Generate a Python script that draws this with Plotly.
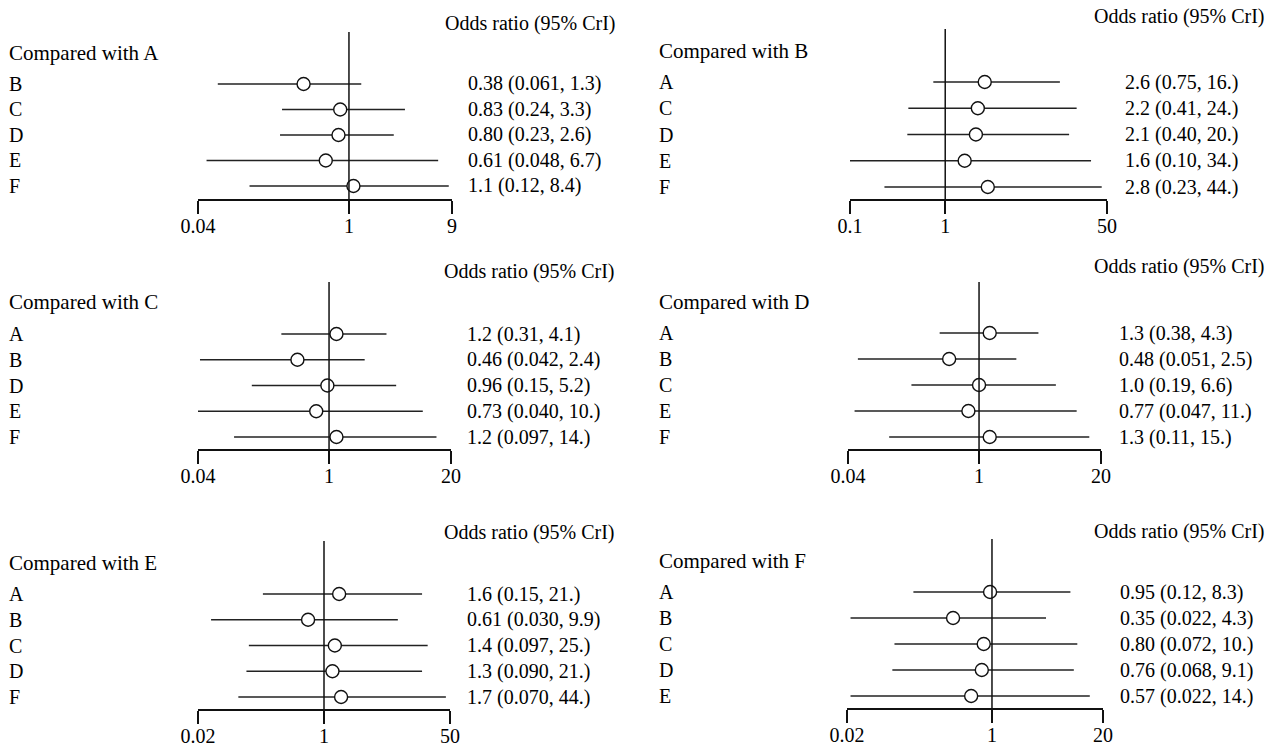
import math
import plotly.graph_objects as go

W, H = 1285, 747

# ---------------- data ----------------
ref_A = "A"
cmp_A = ["B", "C", "D", "E", "F"]
or_A = [0.38, 0.83, 0.80, 0.61, 1.1]
lo_A = [0.061, 0.24, 0.23, 0.048, 0.12]
hi_A = [1.3, 3.3, 2.6, 6.7, 8.4]
txt_A = ["0.38 (0.061, 1.3)", "0.83 (0.24, 3.3)", "0.80 (0.23, 2.6)", "0.61 (0.048, 6.7)", "1.1 (0.12, 8.4)"]
ticks_A = [0.04, 1, 9]
ticklab_A = ["0.04", "1", "9"]

ref_B = "B"
cmp_B = ["A", "C", "D", "E", "F"]
or_B = [2.6, 2.2, 2.1, 1.6, 2.8]
lo_B = [0.75, 0.41, 0.40, 0.10, 0.23]
hi_B = [16, 24, 20, 34, 44]
txt_B = ["2.6 (0.75, 16.)", "2.2 (0.41, 24.)", "2.1 (0.40, 20.)", "1.6 (0.10, 34.)", "2.8 (0.23, 44.)"]
ticks_B = [0.1, 1, 50]
ticklab_B = ["0.1", "1", "50"]

ref_C = "C"
cmp_C = ["A", "B", "D", "E", "F"]
or_C = [1.2, 0.46, 0.96, 0.73, 1.2]
lo_C = [0.31, 0.042, 0.15, 0.040, 0.097]
hi_C = [4.1, 2.4, 5.2, 10, 14]
txt_C = ["1.2 (0.31, 4.1)", "0.46 (0.042, 2.4)", "0.96 (0.15, 5.2)", "0.73 (0.040, 10.)", "1.2 (0.097, 14.)"]
ticks_C = [0.04, 1, 20]
ticklab_C = ["0.04", "1", "20"]

ref_D = "D"
cmp_D = ["A", "B", "C", "E", "F"]
or_D = [1.3, 0.48, 1.0, 0.77, 1.3]
lo_D = [0.38, 0.051, 0.19, 0.047, 0.11]
hi_D = [4.3, 2.5, 6.6, 11, 15]
txt_D = ["1.3 (0.38, 4.3)", "0.48 (0.051, 2.5)", "1.0 (0.19, 6.6)", "0.77 (0.047, 11.)", "1.3 (0.11, 15.)"]
ticks_D = [0.04, 1, 20]
ticklab_D = ["0.04", "1", "20"]

ref_E = "E"
cmp_E = ["A", "B", "C", "D", "F"]
or_E = [1.6, 0.61, 1.4, 1.3, 1.7]
lo_E = [0.15, 0.030, 0.097, 0.090, 0.070]
hi_E = [21, 9.9, 25, 21, 44]
txt_E = ["1.6 (0.15, 21.)", "0.61 (0.030, 9.9)", "1.4 (0.097, 25.)", "1.3 (0.090, 21.)", "1.7 (0.070, 44.)"]
ticks_E = [0.02, 1, 50]
ticklab_E = ["0.02", "1", "50"]

ref_F = "F"
cmp_F = ["A", "B", "C", "D", "E"]
or_F = [0.95, 0.35, 0.80, 0.76, 0.57]
lo_F = [0.12, 0.022, 0.072, 0.068, 0.022]
hi_F = [8.3, 4.3, 10, 9.1, 14]
txt_F = ["0.95 (0.12, 8.3)", "0.35 (0.022, 4.3)", "0.80 (0.072, 10.)", "0.76 (0.068, 9.1)", "0.57 (0.022, 14.)"]
ticks_F = [0.02, 1, 20]
ticklab_F = ["0.02", "1", "20"]

HEADING = "Odds ratio (95% CrI)"

# ---------------- layout geometry (pixels) ----------------
geo_A = dict(x0=198, x1=452, axis=199, top=32, rows=[84, 186], lab=7, cmp_y=53, head_x=443, head_y=23, val_x=466)
geo_B = dict(x0=850, x1=1107, axis=199, top=29, rows=[82, 187], lab=657, cmp_y=51, head_x=1092, head_y=16, val_x=1123)
geo_C = dict(x0=198, x1=451, axis=449, top=282, rows=[334, 437], lab=7, cmp_y=302, head_x=442, head_y=271, val_x=465)
geo_D = dict(x0=848, x1=1101, axis=449, top=282, rows=[333, 437], lab=657, cmp_y=302, head_x=1092, head_y=266, val_x=1117)
geo_E = dict(x0=198, x1=450, axis=709, top=541, rows=[594, 697], lab=7, cmp_y=563, head_x=442, head_y=532, val_x=465)
geo_F = dict(x0=847, x1=1103, axis=708, top=539, rows=[592, 696], lab=657, cmp_y=561, head_x=1092, head_y=531, val_x=1118)

panels = [
    (ref_A, cmp_A, or_A, lo_A, hi_A, txt_A, ticks_A, ticklab_A, geo_A),
    (ref_B, cmp_B, or_B, lo_B, hi_B, txt_B, ticks_B, ticklab_B, geo_B),
    (ref_C, cmp_C, or_C, lo_C, hi_C, txt_C, ticks_C, ticklab_C, geo_C),
    (ref_D, cmp_D, or_D, lo_D, hi_D, txt_D, ticks_D, ticklab_D, geo_D),
    (ref_E, cmp_E, or_E, lo_E, hi_E, txt_E, ticks_E, ticklab_E, geo_E),
    (ref_F, cmp_F, or_F, lo_F, hi_F, txt_F, ticks_F, ticklab_F, geo_F),
]

FONT = "Liberation Serif, Times New Roman, serif"
FS = 20
INK = "#111111"

fig = go.Figure()
layout = dict(
    width=W, height=H,
    autosize=False,
    margin=dict(l=0, r=0, t=0, b=0, pad=0, autoexpand=False),
    paper_bgcolor="white", plot_bgcolor="rgba(0,0,0,0)",
    showlegend=False,
    font=dict(family=FONT, size=FS, color="black"),
    hovermode=False,
)
annotations = []

for i, (ref, cmp, orv, lo, hi, txt, tv, tl, g) in enumerate(panels, start=1):
    n = len(cmp)
    ys = list(range(n, 0, -1))
    sp = (g["rows"][1] - g["rows"][0]) / (n - 1)
    ymin = 1 - (g["axis"] - g["rows"][1]) / sp
    ymax = n + (g["rows"][0] - g["top"]) / sp
    sfx = "" if i == 1 else str(i)
    xa, ya = "x" + sfx, "y" + sfx

    layout["xaxis" + sfx] = dict(
        domain=[g["x0"] / W, g["x1"] / W], anchor=ya, type="log",
        range=[math.log10(tv[0]) - 1e-6, math.log10(tv[-1]) + 1e-6],
        tickmode="array", tickvals=tv, ticktext=tl,
        ticks="outside", ticklen=13, tickwidth=1.6, tickcolor=INK,
        ticklabelstandoff=-5,
        showline=True, linewidth=1.6, linecolor=INK,
        showgrid=False, zeroline=False, fixedrange=True, automargin=False,
        tickfont=dict(family=FONT, size=FS, color="black"),
    )
    layout["yaxis" + sfx] = dict(
        domain=[1 - g["axis"] / H, 1 - g["top"] / H], anchor=xa,
        range=[ymin, ymax], visible=False, showgrid=False, zeroline=False,
        fixedrange=True, automargin=False,
    )

    # credible interval segments
    sx, sy = [], []
    for y, a, b in zip(ys, lo, hi):
        sx += [a, b, None]
        sy += [y, y, None]
    fig.add_trace(go.Scatter(x=sx, y=sy, mode="lines", xaxis=xa, yaxis=ya,
                             line=dict(color="#222222", width=1.5), cliponaxis=False))
    # point estimates
    fig.add_trace(go.Scatter(x=orv, y=ys, mode="markers", xaxis=xa, yaxis=ya, cliponaxis=False,
                             marker=dict(symbol="circle", size=13, color="white",
                                         line=dict(color=INK, width=1.4))))
    # reference line at OR = 1
    fig.add_trace(go.Scatter(x=[1, 1], y=[ymin, ymax], mode="lines", xaxis=xa, yaxis=ya,
                             line=dict(color=INK, width=1.5), cliponaxis=False))

    # texts
    annotations.append(dict(text="Compared with " + ref, xref="paper", yref="paper",
                            x=g["lab"] / W, y=1 - g["cmp_y"] / H, xanchor="left", yanchor="middle",
                            showarrow=False, font=dict(size=21)))
    annotations.append(dict(text=HEADING, xref="paper", yref="paper",
                            x=g["head_x"] / W, y=1 - g["head_y"] / H, xanchor="left", yanchor="middle",
                            showarrow=False))
    for y, c, t in zip(ys, cmp, txt):
        annotations.append(dict(text=c, xref="paper", yref=ya, x=g["lab"] / W, y=y,
                                xanchor="left", yanchor="middle", showarrow=False))
        annotations.append(dict(text=t, xref="paper", yref=ya, x=g["val_x"] / W, y=y,
                                xanchor="left", yanchor="middle", showarrow=False))

layout["annotations"] = annotations
fig.update_layout(**layout)
fig.write_html("out.html", config={"displayModeBar": False},
               post_script="document.body.style.margin='0px';document.body.style.overflow='hidden';")
